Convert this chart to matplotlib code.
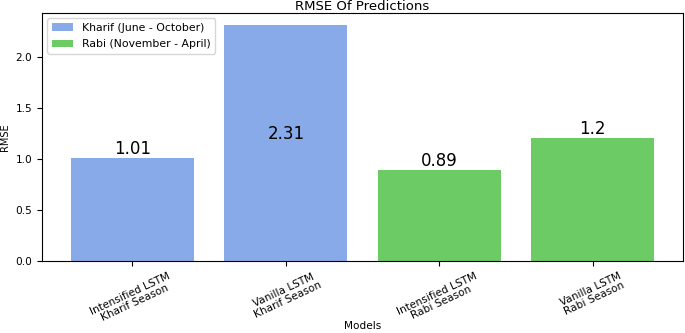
import matplotlib.pyplot as plt
import numpy as np

models = [
    "Intensified LSTM\nKharif Season",
    "Vanilla LSTM\nKharif Season",
    "Intensified LSTM\nRabi Season",
    "Vanilla LSTM\nRabi Season",
]
rmse = [1.01, 2.31, 0.89, 1.2]
seasons = ["Kharif", "Kharif", "Rabi", "Rabi"]
season_labels = {"Kharif": "Kharif (June - October)", "Rabi": "Rabi (November - April)"}
season_colors = {"Kharif": "#88aae8", "Rabi": "#6ccb64"}

fig, ax = plt.subplots(figsize=(6.85, 3.33), dpi=100)
fig.subplots_adjust(left=42 / 685, right=683 / 685, top=1 - 13 / 333, bottom=1 - 261 / 333)

x = np.arange(len(models))
seen = set()
for i, (v, s) in enumerate(zip(rmse, seasons)):
    label = season_labels[s] if s not in seen else None
    seen.add(s)
    ax.bar(x[i], v, width=0.8, color=season_colors[s], label=label)
    y_text = v if v < 2 else v / 2
    ax.text(x[i], y_text, str(v), ha="center", va="bottom", fontsize=12)

ax.set_xticks(x)
ax.set_xticklabels(models, rotation=25, fontsize=7.6, linespacing=1.0)
ax.tick_params(axis="y", labelsize=7.6)
ax.set_title("RMSE Of Predictions", fontsize=9.5, pad=2)
ax.set_xlabel("Models", fontsize=7.6)
ax.xaxis.set_label_coords(0.5, -0.24)
ax.set_ylabel("RMSE", fontsize=7)
ax.legend(loc="upper left", fontsize=7.8, labelspacing=0.6)

plt.savefig("out.png", dpi=100)
